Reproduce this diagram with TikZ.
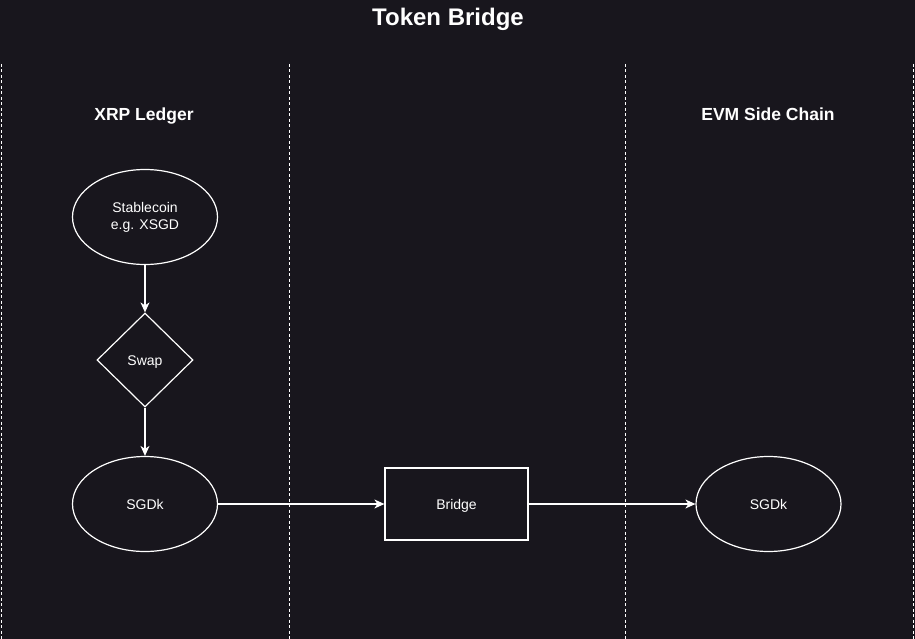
\documentclass[tikz,border=0pt]{standalone}
\usepackage{fontspec}
\setmainfont{Liberation Sans}
\usetikzlibrary{arrows.meta,shapes.geometric}
\definecolor{bgdark}{RGB}{24,22,29}
\tikzset{
	lane/.style={white,line width=1pt,dash pattern=on 3pt off 2.5pt},
	heading/.style={text=white,font=\bfseries\fontsize{17.5}{20}\selectfont,text height=12.5pt,text depth=0pt},
	label/.style={text=white,font=\fontsize{14}{17}\selectfont,text height=10pt,text depth=0pt},
	token/.style={shape=ellipse,draw=white,line width=1.2pt,minimum width=145pt,minimum height=95pt,inner sep=0pt,align=center,text=white,font=\fontsize{14}{17}\selectfont},
	flow/.style={->,>={Stealth[length=10pt,width=9pt,inset=3pt]},white,line width=1.2pt}
}
\begin{document}
\begin{tikzpicture}[x=1pt,y=-1pt]
				\fill[bgdark] (0,0) rectangle (915,639);
				\useasboundingbox (0,0) rectangle (915,639);
				
				\node[text=white,font=\bfseries\fontsize{24}{28}\selectfont,text height=17pt,text depth=0pt] (title) at (448,17) {Token Bridge};
				\draw[lane] (1,64) -- (1,639);
				\draw[lane] (289,64) -- (289,639);
				\draw[lane] (625,64) -- (625,639);
				\draw[lane] (913,64) -- (913,639);
				\node[heading] (xrp) at (144,114) {XRP Ledger};
				\node[heading] (evm) at (768,114) {EVM Side Chain};
				
				\node[token] (coin) at (145,217) {Stablecoin\\e.g. XSGD};
				\node[shape=diamond,draw=white,line width=1.2pt,minimum width=96pt,minimum height=94pt,inner sep=0pt,label] (swap) at (145,360) {Swap};
				\node[token,label] (sgdx) at (145,504) {SGDk};
				\node[shape=rectangle,draw=white,line width=1.2pt,minimum width=143pt,minimum height=72pt,inner sep=0pt,label] (bridge) at (456.5,504) {Bridge};
				\node[token,label] (sgde) at (768.5,504) {SGDk};
				
				\draw[flow] (coin) -- (swap);
				\draw[flow] (swap) -- (sgdx);
				\draw[flow] (sgdx) -- (bridge);
				\draw[flow] (bridge) -- (sgde);
			\end{tikzpicture}
\end{document}
